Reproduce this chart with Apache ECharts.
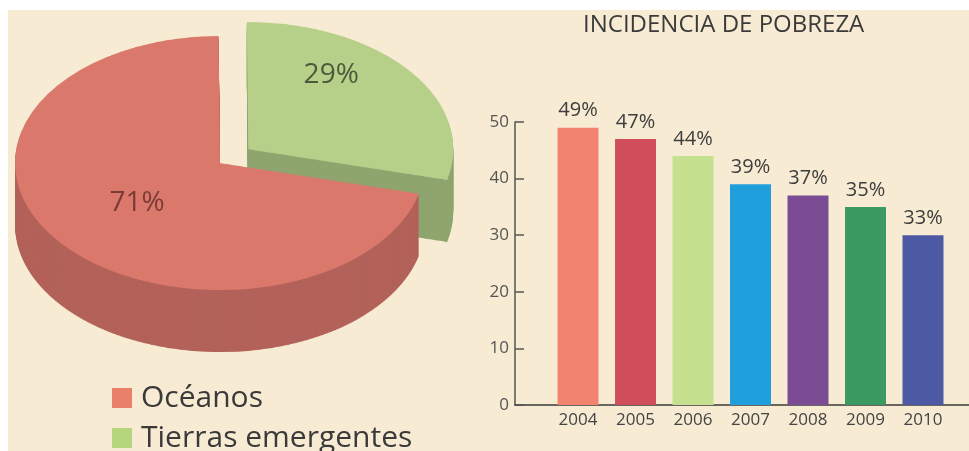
<!DOCTYPE html>
<html>
<head>
<meta charset="utf-8">
<script src="https://cdn.jsdelivr.net/npm/echarts@6/dist/echarts.min.js"></script>
<style>
  html, body { margin: 0; padding: 0; background: #fff; }
  #wrap { position: relative; width: 969px; height: 451px; overflow: hidden; background: #fff; }
  #paper { position: absolute; left: 8px; top: 10px; right: 0; bottom: 0; background: #f8ebd3; }
  #pie { position: absolute; left: 0; top: 0; width: 460px; height: 600px; transform: scaleY(0.62); transform-origin: 0 0; }
  #main { position: absolute; left: 0; top: 0; width: 969px; height: 451px; }
</style>
</head>
<body>
<div id="wrap">
  <div id="paper"></div>
  <div id="pie"></div>
  <div id="main"></div>
</div>
<script>
// ---- data ----
const pieNames = ['Océanos', 'Tierras emergentes'];
const pieValues = [71, 29];
const pieLabels = ['71%', '29%'];

const chartTitle = 'INCIDENCIA DE POBREZA';
const years = [2004, 2005, 2006, 2007, 2008, 2009, 2010];
const barValues = [49, 47, 44, 39, 37, 35, 30];
const barLabels = ['49%', '47%', '44%', '39%', '37%', '35%', '33%'];

// ---- styles ----
const FONT = '"Open Sans", "Noto Sans", sans-serif';
const pieTopColors = ['#da786b', '#b6d08a'];
const pieSideColors = ['#b3625a', '#8fa56f'];
const legendColors = ['#e9806a', '#b5d67c'];
const pieLabelColors = ['#7b3b35', '#4b5a3c'];
const barColors = ['#f2836f', '#d14f5c', '#c5e08f', '#1f9fdc', '#7b4b93', '#3a9a61', '#4d5aa3'];

const K = 0.62;            // vertical squash of the pie
const PIE_CX = 220, PIE_CY = 163, PIE_R = 205;
const THICK = 100;         // thickness before squash
const START = -14, SEL_OFF = 36;

// ---- 3D pie (squashed by CSS) ----
const pieChart = echarts.init(document.getElementById('pie'), null, { renderer: 'canvas' });
const pieSeries = [];
function pieData(colors) {
  return pieNames.map((n, i) => ({
    name: n, value: pieValues[i], selected: i === 1,
    itemStyle: { color: colors[i], borderWidth: 0 }
  }));
}
const cyU = PIE_CY / K;
for (let t = THICK; t > 0; t -= 2) {
  pieSeries.push({
    type: 'pie', center: [PIE_CX, cyU + t], radius: PIE_R, startAngle: START,
    selectedMode: 'single', selectedOffset: SEL_OFF, silent: true, animation: false,
    label: { show: false }, labelLine: { show: false },
    emphasis: { disabled: true },
    data: pieData(pieSideColors)
  });
}
pieSeries.push({
  type: 'pie', center: [PIE_CX, cyU], radius: PIE_R, startAngle: START,
  selectedMode: 'single', selectedOffset: SEL_OFF, silent: true, animation: false,
  label: { show: false }, labelLine: { show: false },
  emphasis: { disabled: true },
  data: pieData(pieTopColors)
});
pieChart.setOption({ animation: false, series: pieSeries });

// ---- main chart ----
const chart = echarts.init(document.getElementById('main'), null, { renderer: 'canvas' });
chart.setOption({
  animation: false,
  backgroundColor: 'transparent',
  title: {
    text: chartTitle, left: 578, top: 8,
    textStyle: { fontFamily: FONT, fontSize: 24, fontWeight: 'normal', color: '#3b3b3b' }
  },
  legend: {
    orient: 'vertical', left: 107, top: 378, height: 200,
    itemWidth: 20, itemHeight: 20, itemGap: 10, icon: 'rect',
    selectedMode: false,
    textStyle: { fontFamily: FONT, fontSize: 30, color: '#3a3a3a', padding: [0, 0, 0, 4] },
    data: pieNames.map((n, i) => ({ name: n, itemStyle: { color: legendColors[i], opacity: 1 } }))
  },
  grid: { left: 515, right: 0, top: 122, bottom: 46, containLabel: false },
  xAxis: {
    type: 'value', min: 2002.904, max: 2010.8,
    axisLine: { show: true, lineStyle: { color: '#3a3a3a', width: 1.5 } },
    axisTick: { show: false },
    splitLine: { show: false },
    axisLabel: {
      customValues: years, formatter: v => String(v),
      fontFamily: FONT, fontSize: 17, color: '#444', margin: 7
    }
  },
  yAxis: {
    type: 'value', min: 0, max: 50, interval: 10,
    axisLine: { show: true, lineStyle: { color: '#555', width: 1.5 } },
    axisTick: { show: true, inside: true, length: 9, lineStyle: { color: '#555', width: 1.5 } },
    splitLine: { show: false },
    axisLabel: { fontFamily: FONT, fontSize: 17, color: '#555', margin: 6 }
  },
  series: [
    {
      type: 'bar', barWidth: 41,
      data: years.map((y, i) => ({ value: [y, barValues[i]], itemStyle: { color: barColors[i] } })),
      label: {
        show: true, position: 'top', distance: 7,
        formatter: p => barLabels[p.dataIndex],
        fontFamily: FONT, fontSize: 20, color: '#3d3d3d'
      },
      silent: true
    },
    {
      type: 'pie', center: [PIE_CX, PIE_CY], radius: PIE_R, startAngle: START,
      selectedMode: 'single', selectedOffset: SEL_OFF, silent: true,
      itemStyle: { color: 'rgba(0,0,0,0)', borderWidth: 0 },
      emphasis: { disabled: true },
      labelLine: { show: false },
      label: {
        show: true, position: 'inside',
        formatter: p => pieLabels[p.dataIndex],
        fontFamily: FONT, fontSize: 28
      },
      labelLayout: function (params) {
        const r = params.labelRect;
        const cx = r.x + r.width / 2, cy = r.y + r.height / 2;
        return { x: cx, y: PIE_CY + (cy - PIE_CY) * K, align: 'center', verticalAlign: 'middle' };
      },
      data: pieNames.map((n, i) => ({
        name: n, value: pieValues[i], selected: i === 1,
        label: { color: pieLabelColors[i] }
      }))
    }
  ]
});
</script>
</body>
</html>
